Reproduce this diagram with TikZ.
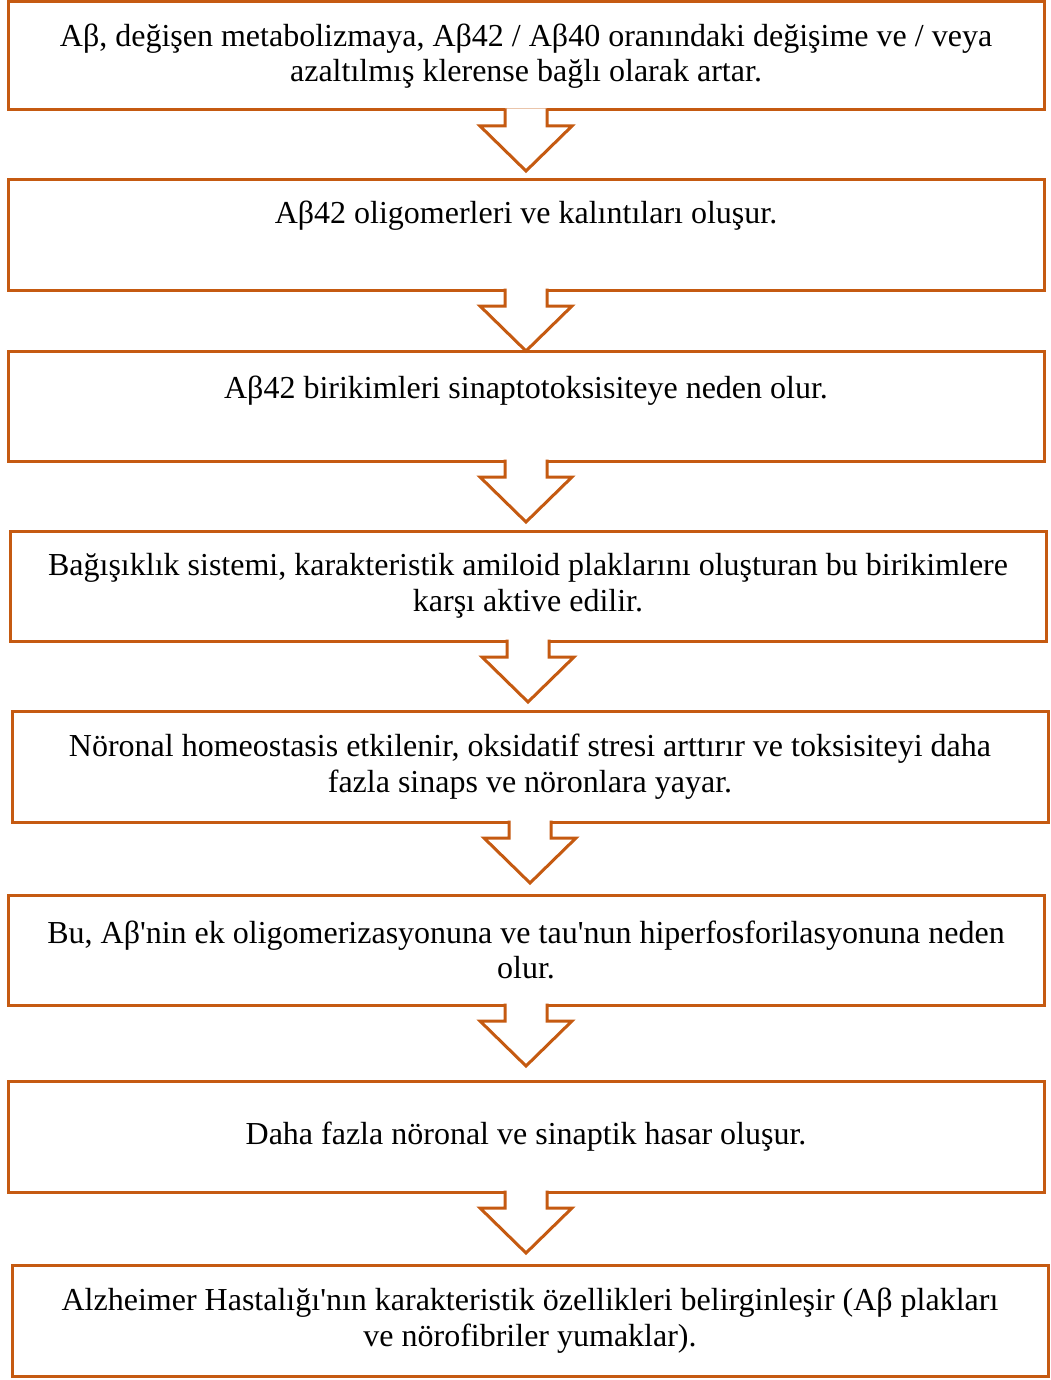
\documentclass[tikz,border=0pt]{standalone}
\usepackage{fontspec}
\setmainfont{Liberation Serif}
\usetikzlibrary{calc}
\definecolor{flowline}{HTML}{C55A11}
\newcommand\flowarrow[2]{%
\coordinate (#1-tip) at ($(#1.south)!61pt!(#1.south |- #2.north)$);
\draw [flowarrow] ($(#1.south)+(-21,-1.5)$) -- ($(#1-tip)+(-21,-45)$) -- ($(#1-tip)+(-46,-45)$) -- (#1-tip) -- ($(#1-tip)+(46,-45)$) -- ($(#1-tip)+(21,-45)$) -- ($(#1.south)+(21,-1.5)$);
}
\newcommand\apos{\textquotesingle}
\tikzset{
  stepbox/.style={draw=flowline, line width=3pt, rectangle, outer sep=0pt, inner sep=0pt,
    minimum width=1036pt, minimum height=110pt, align=center,
    font=\fontsize{32}{35.5}\selectfont},
  flowarrow/.style={draw=flowline, line width=3pt, fill=white, line join=miter}
}

\begin{document}
\begin{tikzpicture}[x=1pt, y=-1pt]
\useasboundingbox (0,0) rectangle (1050,1380);
\node [stepbox, minimum height=108pt] (s1) at (526,56) {Aβ, değişen metabolizmaya, Aβ42 / Aβ40 oranındaki değişime ve / veya\\azaltılmış klerense bağlı olarak artar.};
\node [stepbox] (s2) at (526,235) {Aβ42 oligomerleri ve kalıntıları oluşur.\\\strut};
\node [stepbox] (s3) at (526,406) {Aβ42 birikimleri sinaptotoksisiteye neden olur.\\[-8pt]\strut};
\node [stepbox] (s4) at (528,586) {Bağışıklık sistemi, karakteristik amiloid plaklarını oluşturan bu birikimlere\\karşı aktive edilir.};
\node [stepbox, minimum height=111pt] (s5) at (530,766.5) {Nöronal homeostasis etkilenir, oksidatif stresi arttırır ve toksisiteyi daha\\fazla sinaps ve nöronlara yayar.};
\node [stepbox] (s6) at (526,950) {Bu, Aβ\apos nin ek oligomerizasyonuna ve tau\apos nun hiperfosforilasyonuna neden\\olur.};
\node [stepbox, minimum height=111pt] (s7) at (526,1136.5) {Daha fazla nöronal ve sinaptik hasar oluşur.};
\node [stepbox, minimum height=111pt] (s8) at (530,1320.5) {Alzheimer Hastalığı\apos nın karakteristik özellikleri belirginleşir (Aβ plakları\\ve nörofibriler yumaklar).};
\flowarrow{s1}{s2}
\flowarrow{s2}{s3}
\flowarrow{s3}{s4}
\flowarrow{s4}{s5}
\flowarrow{s5}{s6}
\flowarrow{s6}{s7}
\flowarrow{s7}{s8}
\end{tikzpicture}
\end{document}
